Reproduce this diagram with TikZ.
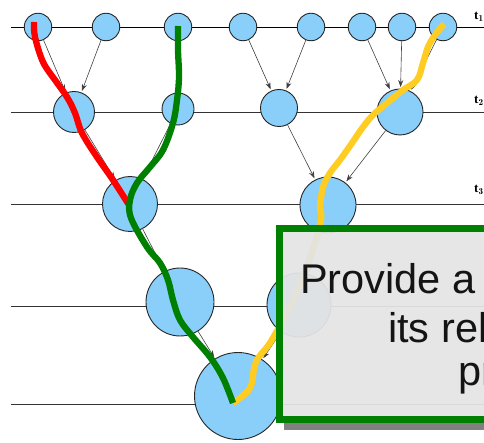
\documentclass[tikz,border=0pt]{standalone}
\usepackage{fontspec}
\newfontfamily\boxfont{Liberation Sans}
\newfontfamily\lblfont{Liberation Serif}
\usetikzlibrary{arrows.meta}
\definecolor{skyc}{RGB}{137,207,250}
\definecolor{pathred}{RGB}{255,0,0}
\definecolor{pathgreen}{RGB}{0,128,0}
\definecolor{pathyellow}{RGB}{255,204,34}
\definecolor{boxfill}{RGB}{228,228,228}
\tikzset{
  blob/.style={circle,draw=black!85,fill=skyc,line width=0.9pt,inner sep=0pt,minimum size=#1},
  tline/.style={draw=black!80,line width=0.9pt},
  flow/.style={-{Stealth[length=7pt,width=5pt]},draw=black!75,line width=0.6pt,shorten >=1.5pt},
  trail/.style={line width=6.3pt,line join=round},
  tlabel/.style={font=\lblfont\bfseries\fontsize{13}{13}\selectfont,anchor=base west,inner sep=0pt},
  boxtext/.style={font=\boxfont\fontsize{41.5}{41.5}\selectfont,text=black!92,anchor=base west,inner sep=0pt}
}
\begin{document}
\begin{tikzpicture}[x=1pt,y=-1pt]
\useasboundingbox (0,0) rectangle (484,443);
% time lines
\draw[tline,draw=black] (11,27) -- (484,27);
\draw[tline] (11,112) -- (484,112);
\draw[tline] (11,204) -- (484,204);
\draw[tline] (11,306) -- (484,306);
\draw[tline] (11,404) -- (484,404);
\node[tlabel] (l1) at (474,20) {t$_{\mathbf{1}}$};
\node[tlabel] (l2) at (474,104) {t$_{\mathbf{2}}$};
\node[tlabel] (l3) at (474,193) {t$_{\mathbf{3}}$};
% row 1
\node[blob=27.5pt] (a1) at (38,27) {};
\node[blob=27.5pt] (a2) at (106,27) {};
\node[blob=27.5pt] (a3) at (178,27) {};
\node[blob=27.5pt] (a4) at (243,27) {};
\node[blob=27.5pt] (a5) at (311,27) {};
\node[blob=27.5pt] (a6) at (362,27) {};
\node[blob=27.5pt] (a7) at (402,27) {};
\node[blob=27.5pt] (a8) at (443,27) {};
% row 2
\node[blob=41pt] (b1) at (74,112) {};
\node[blob=32pt] (b2) at (178,109) {};
\node[blob=37pt] (b3) at (279,108) {};
\node[blob=46pt] (b4) at (400,112) {};
% row 3
\node[blob=55pt] (c1) at (130,204) {};
\node[blob=56pt] (c2) at (328,205) {};
% row 4
\node[blob=68pt] (d1) at (180,302) {};
\node[blob=64pt] (d2) at (299,305) {};
% row 5
\node[blob=87pt] (e1) at (238,396) {};
% arrows
\draw[flow] (a1) -- (b1);
\draw[flow] (a2) -- (b1);
\draw[flow] (a3) -- (b2);
\draw[flow] (a4) -- (b3);
\draw[flow] (a5) -- (b3);
\draw[flow] (a6) -- (b4);
\draw[flow] (a7) -- (b4);
\draw[flow] (a8) -- (b4);
\draw[flow] (b1) -- (c1);
\draw[flow] (b2) -- (c1);
\draw[flow] (b3) -- (c2);
\draw[flow] (b4) -- (c2);
\draw[flow] (c1) -- (d1);
\draw[flow] (c2) -- (d2);
\draw[flow] (d1) -- (e1);
\draw[flow] (d2) -- (e1);
% trails
\draw[trail,draw=pathred] plot[smooth,tension=0.6] coordinates {(34,22) (35,37) (43,62) (55,80) (67,97) (75,113) (82,133) (97,157) (113,180) (129,205)};
\draw[trail,draw=pathyellow] plot[smooth,tension=0.6] coordinates {(444,24) (435,35) (428,47) (423,63) (417,80) (403,90) (387,103) (373,115) (363,127) (352,143) (340,160) (330,173) (323,187) (320,207) (320,225) (300,285) (273,338) (256,362) (250,388) (233,403)};
\draw[trail,draw=pathgreen] plot[smooth,tension=0.6] coordinates {(178,26) (178,50) (179,77) (177,100) (173,123) (163,150) (150,167) (137,183) (130,200) (131,218) (147,247) (160,263) (168,280) (173,300) (180,320) (193,337) (210,357) (223,378) (233,403)};
% popup box
\fill[black!50] (284,423) rectangle (500,430);
\draw[pathgreen,line width=7pt,fill=boxfill,fill opacity=0.94] (279.5,228.5) rectangle (500,419.5);
\node[boxtext] (p1) at (300,294) {Provide a};
\node[boxtext] (p2) at (388,342) {its rel};
\node[boxtext] (p3) at (458,385) {pr};
\end{tikzpicture}
\end{document}
